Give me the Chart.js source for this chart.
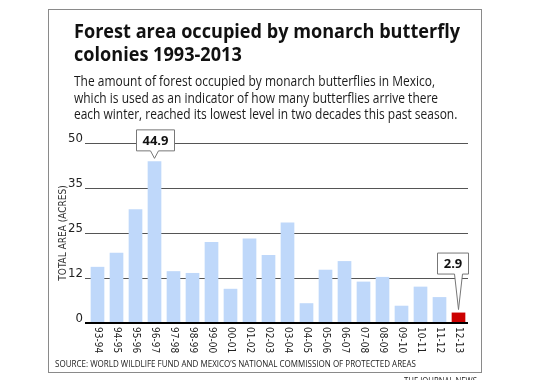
<!DOCTYPE html>
<html><head><meta charset="utf-8">
<script src="https://cdn.jsdelivr.net/npm/chart.js@4.4.1/dist/chart.umd.min.js"></script>
<style>html,body{margin:0;padding:0;background:#fff}#wrap{width:540px;height:380px;position:relative}</style>
</head><body><div id="wrap"><canvas id="c" width="540" height="380"></canvas></div>
<script>
// ---- data ----
const seasons = ['93-94','94-95','95-96','96-97','97-98','98-99','99-00','00-01','01-02','02-03',
                 '03-04','04-05','05-06','06-07','07-08','08-09','09-10','10-11','11-12','12-13'];
const acres = [15.6,19.5,31.6,44.9,14.4,13.9,22.5,9.5,23.5,18.9,
               27.9,5.5,14.8,17.2,11.5,12.8,4.8,10.1,7.2,2.9];
const yTickLabels = ['0','12','25','35','50'];
const calloutSeasons = ['96-97','12-13'];
const highlightSeason = '12-13';
const titleLines = ['Forest area occupied by monarch butterfly','colonies 1993-2013'];
const subtitleLines = ['The amount of forest occupied by monarch butterflies in Mexico,',
  'which is used as an indicator of how many butterflies arrive there',
  'each winter, reached its lowest level in two decades this past season.'];
const yAxisTitle = 'TOTAL AREA (ACRES)';
const sourceText = 'SOURCE: WORLD WILDLIFE FUND AND MEXICO\u2019S NATIONAL COMMISSION OF PROTECTED AREAS';
const creditText = 'THE JOURNAL NEWS';

// ---- styles ----
const NARROW = "'Liberation Sans Narrow','DejaVu Sans Condensed',Roboto,sans-serif";
const BODY = "'Open Sans',Roboto,sans-serif";
const BLUE = '#bfd8fa', RED = '#cc0000';

function drawScaledText(ctx, lines, x, baselines, font, targetWidth, color) {
  ctx.save();
  ctx.font = font;
  ctx.fillStyle = color;
  ctx.textAlign = 'left';
  ctx.textBaseline = 'alphabetic';
  const sx = targetWidth / ctx.measureText(lines[0]).width;
  lines.forEach((t, k) => {
    ctx.save();
    ctx.translate(x, baselines[k]);
    ctx.scale(sx, 1);
    ctx.fillText(t, 0, 0);
    ctx.restore();
  });
  ctx.restore();
}

const decor = {
  id: 'decor',
  beforeDraw(chart) {
    const ctx = chart.ctx;
    ctx.save();
    ctx.fillStyle = '#fff';
    ctx.fillRect(0, 0, chart.width, chart.height);
    ctx.strokeStyle = '#8a8a8a';
    ctx.lineWidth = 1;
    ctx.strokeRect(48.5, 9.5, 433, 363);
    ctx.restore();
  },
  afterDraw(chart) {
    const ctx = chart.ctx;
    const xs = chart.scales.x;
    // titles
    drawScaledText(ctx, titleLines, 74, [38, 61], "bold 20px " + BODY, 386, '#111');
    drawScaledText(ctx, subtitleLines, 74, [86, 102.5, 119], "14px " + BODY, 361, '#1a1a1a');
    // x labels (rotated clockwise)
    ctx.save();
    ctx.font = "10px " + NARROW;
    ctx.fillStyle = '#222';
    ctx.textAlign = 'left';
    ctx.textBaseline = 'middle';
    seasons.forEach((s, i) => {
      const x = xs.getPixelForValue(i);
      ctx.save();
      ctx.translate(x, chart.chartArea.bottom + 4);
      ctx.rotate(Math.PI / 2);
      ctx.fillText(s, 0, 0);
      ctx.restore();
    });
    ctx.restore();
    // callouts
    const meta = chart.getDatasetMeta(0);
    const lifts = [11, 39];
    calloutSeasons.forEach((s, k) => {
      const i = seasons.indexOf(s);
      const bar = meta.data[i];
      const txt = String(acres[i]);
      ctx.save();
      ctx.font = "bold 13px " + BODY;
      const w = Math.round(ctx.measureText(txt).width + 12);
      const h = 21;
      const tipX = bar.x, tipY = bar.y - 3;
      const bottom = bar.y - lifts[k];
      let cx = Math.min(bar.x, chart.chartArea.right - w / 2);
      const L = Math.round(cx - w / 2) + 0.5, R = L + w, T = bottom - h + 0.5, B = bottom + 0.5;
      ctx.beginPath();
      ctx.moveTo(L, T); ctx.lineTo(R, T); ctx.lineTo(R, B);
      ctx.lineTo(tipX + 4, B); ctx.lineTo(tipX, tipY); ctx.lineTo(tipX - 4, B);
      ctx.lineTo(L, B); ctx.closePath();
      ctx.fillStyle = '#fff'; ctx.fill();
      ctx.strokeStyle = '#777'; ctx.lineWidth = 1; ctx.stroke();
      ctx.fillStyle = '#111';
      ctx.textAlign = 'center'; ctx.textBaseline = 'middle';
      ctx.fillText(txt, (L + R) / 2, (T + B) / 2 + 0.5);
      ctx.restore();
    });
    // source & credit
    drawScaledText(ctx, [sourceText], 55, [367], "9px " + BODY, 361, '#222');
    drawScaledText(ctx, [creditText], 404, [384], "9px " + BODY, 73, '#222');
  }
};

new Chart(document.getElementById('c'), {
  type: 'bar',
  data: {
    labels: seasons,
    datasets: [{
      data: acres,
      backgroundColor: seasons.map(s => s === highlightSeason ? RED : BLUE),
      borderWidth: 0,
      barPercentage: 0.72,
      categoryPercentage: 1
    }]
  },
  options: {
    responsive: false,
    devicePixelRatio: 1,
    animation: false,
    layout: { padding: { left: 48, right: 72, top: 143, bottom: 57 } },
    plugins: { legend: { display: false }, tooltip: { enabled: false } },
    scales: {
      x: { display: false },
      y: {
        min: 0, max: 50,
        afterFit(s) { s.width = 40; },
        ticks: {
          stepSize: 12.5,
          callback: (v, i) => yTickLabels[i],
          font: { family: NARROW, size: 13 },
          color: '#222',
          padding: 2,
          labelOffset: -4
        },
        grid: {
          color: c => (c.tick && c.tick.value === 0) ? '#000' : '#555',
          lineWidth: c => (c.tick && c.tick.value === 0) ? 2 : 1,
          tickLength: 3,
          drawTicks: true
        },
        border: { display: false },
        title: {
          display: true, text: yAxisTitle,
          font: { family: NARROW, size: 10 },
          color: '#333',
          padding: { top: 9, bottom: 0 }
        }
      }
    }
  },
  plugins: [decor]
});
</script>
</body></html>
